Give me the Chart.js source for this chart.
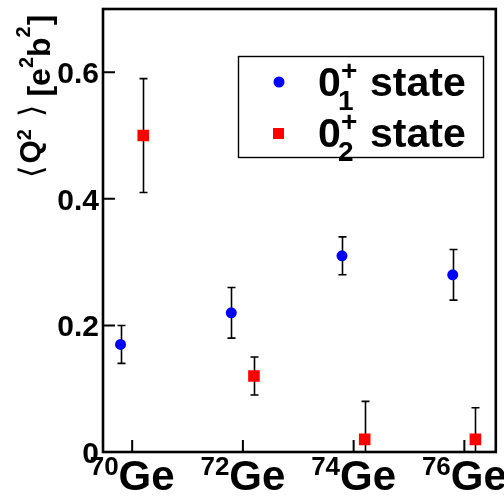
<!DOCTYPE html>
<html>
<head>
<meta charset="utf-8">
<script src="https://cdn.jsdelivr.net/npm/chart.js@4.4.1/dist/chart.umd.min.js"></script>
<style>
  html, body { margin: 0; padding: 0; background: #fff; }
  canvas { display: block; }
</style>
</head>
<body>
<canvas id="q2chart" width="504" height="501"></canvas>
<script>
// ── Data ─────────────────────────────────────
// Ge isotopes, by mass number, along the x axis
const massNumbers   = [70, 72, 74, 76];
const isotopeSymbol = 'Ge';

// first 0+ state, drawn a little left of each isotope
const state1X   = [69.79, 71.79, 73.79, 75.79];
const state1Q2  = [0.17, 0.22, 0.31, 0.28];
const state1Err = [0.03, 0.04, 0.03, 0.04];

// second 0+ state, drawn a little right of each isotope
const state2X   = [70.2, 72.2, 74.2, 76.2];
const state2Q2  = [0.50, 0.12, 0.02, 0.02];
const state2Err = [0.09, 0.03, 0.06, 0.05];

const yTicks      = [0, 0.2, 0.4, 0.6];
const yTickLabels = ['0', '0.2', '0.4', '0.6'];

const FAMILY = '"Liberation Sans", Arial, Helvetica, sans-serif';
const bold = px => 'bold ' + px + 'px ' + FAMILY;

/**
 * Draws a row of text pieces one after another (for super/subscripts).
 * Each run: { text, font, dy, gap }
 */
function drawRuns(ctx, x, y, runs) {
  let cx = x;
  runs.forEach(r => {
    ctx.font = r.font;
    ctx.fillText(r.text, cx, y + (r.dy || 0));
    cx += ctx.measureText(r.text).width + (r.gap || 0);
  });
  return cx;
}

function drawErrorBars(chart, xs, ys, errs) {
  const { ctx, chartArea, scales: { x, y } } = chart;
  ctx.save();
  ctx.beginPath();
  ctx.rect(chartArea.left, chartArea.top, chartArea.right - chartArea.left, chartArea.bottom - chartArea.top);
  ctx.clip();
  ctx.strokeStyle = '#000';
  ctx.lineWidth = 1.6;
  xs.forEach((xv, i) => {
    const px  = Math.round(x.getPixelForValue(xv)) + 0.5;
    const top = y.getPixelForValue(ys[i] + errs[i]);
    const bot = y.getPixelForValue(ys[i] - errs[i]);
    ctx.beginPath();
    ctx.moveTo(px, top);     ctx.lineTo(px, bot);
    ctx.moveTo(px - 4, top); ctx.lineTo(px + 4, top);
    ctx.moveTo(px - 4, bot); ctx.lineTo(px + 4, bot);
    ctx.stroke();
  });
  ctx.restore();
}

// ── Frame, ticks, labels, legend ─────────────
const rootStyle = {
  id: 'rootStyle',
  beforeDatasetsDraw(chart) {
    const { ctx, chartArea: a, scales: { x, y } } = chart;
    ctx.save();
    ctx.strokeStyle = '#000';

    // inward ticks
    ctx.lineWidth = 2;
    ctx.beginPath();
    yTicks.forEach(v => {
      const py = y.getPixelForValue(v);
      ctx.moveTo(a.left, py); ctx.lineTo(a.left + 12, py);
    });
    massNumbers.forEach(m => {
      const px = x.getPixelForValue(m);
      ctx.moveTo(px, a.bottom); ctx.lineTo(px, a.bottom - 12);
    });
    ctx.stroke();

    // frame
    ctx.lineWidth = 2.6;
    ctx.strokeRect(a.left, a.top, a.right - a.left, a.bottom - a.top);
    ctx.restore();

    drawErrorBars(chart, state1X, state1Q2, state1Err);
    drawErrorBars(chart, state2X, state2Q2, state2Err);
  },
  afterDraw(chart) {
    const { ctx, chartArea: a, scales: { x, y } } = chart;
    ctx.save();
    ctx.fillStyle = '#000';
    ctx.textBaseline = 'alphabetic';

    // y tick labels
    ctx.font = bold(30);
    ctx.textAlign = 'right';
    yTicks.forEach((v, i) => {
      ctx.fillText(yTickLabels[i], a.left - 4, y.getPixelForValue(v) + 11);
    });

    // x tick labels: mass number as superscript + element symbol
    ctx.textAlign = 'left';
    massNumbers.forEach(m => {
      ctx.font = bold(26);
      const wA = ctx.measureText(String(m)).width;
      ctx.font = bold(42);
      const wS = ctx.measureText(isotopeSymbol).width;
      const x0 = x.getPixelForValue(m) - (wA + wS) / 2;
      drawRuns(ctx, x0, 490, [
        { text: String(m), font: bold(26), dy: -15 },
        { text: isotopeSymbol, font: bold(42) }
      ]);
    });

    // y axis title, rotated
    ctx.save();
    ctx.translate(50, 178);
    ctx.rotate(-Math.PI / 2);
    drawRuns(ctx, 0, 0, [
      { text: '\u27E8', font: '32px "DejaVu Sans"', dy: -8, gap: 2 },
      { text: 'Q', font: bold(30), dy: -10 },
      { text: '2', font: bold(20), dy: -19, gap: 12 },
      { text: '\u27E9', font: '32px "DejaVu Sans"', dy: -8, gap: 8 },
      { text: '[e', font: bold(32) },
      { text: '2', font: bold(20), dy: -17 },
      { text: 'b', font: bold(32) },
      { text: '2', font: bold(20), dy: -20, gap: 1 },
      { text: ']', font: bold(32) }
    ]);
    ctx.restore();

    // legend
    ctx.lineWidth = 1.4;
    ctx.strokeStyle = '#000';
    ctx.strokeRect(238.5, 56.5, 245, 101);

    const rows = [
      { idx: '1', color: '#0000ff', shape: 'circle', base: 96 },
      { idx: '2', color: '#ff0000', shape: 'rect',   base: 147 }
    ];
    rows.forEach(r => {
      ctx.fillStyle = r.color;
      const my = r.base - 14;
      if (r.shape === 'circle') {
        ctx.beginPath(); ctx.arc(279, my, 5.5, 0, Math.PI * 2); ctx.fill();
      } else {
        ctx.fillRect(273, my - 5, 11, 11);
      }
      ctx.fillStyle = '#000';
      ctx.font = bold(41);
      ctx.fillText('0', 318, r.base);
      ctx.font = bold(28);
      ctx.fillText('+', 341, r.base - 16);
      ctx.fillText(r.idx, 338, r.base + 14);
      ctx.font = bold(41);
      ctx.fillText('state', 370, r.base);
    });
    ctx.restore();
  }
};

// ── Chart ────────────────────────────────────
new Chart(document.getElementById('q2chart'), {
  type: 'scatter',
  data: {
    datasets: [
      {
        label: '0+ state 1',
        data: state1X.map((v, i) => ({ x: v, y: state1Q2[i] })),
        pointStyle: 'circle',
        pointRadius: 5.5,
        pointBorderWidth: 0,
        backgroundColor: '#0000ff',
        borderColor: '#0000ff'
      },
      {
        label: '0+ state 2',
        data: state2X.map((v, i) => ({ x: v, y: state2Q2[i] })),
        pointStyle: 'rect',
        pointRadius: 8.2,
        pointBorderWidth: 0,
        backgroundColor: '#ff0000',
        borderColor: '#ff0000'
      }
    ]
  },
  options: {
    responsive: false,
    animation: false,
    layout: { padding: { left: 103, top: 9, right: 1, bottom: 49 } },
    plugins: { legend: { display: false }, tooltip: { enabled: false } },
    scales: {
      x: { type: 'linear', display: false, min: 69.473, max: 76.568 },
      y: { type: 'linear', display: false, min: 0, max: 0.7 }
    }
  },
  plugins: [rootStyle]
});
</script>
</body>
</html>
